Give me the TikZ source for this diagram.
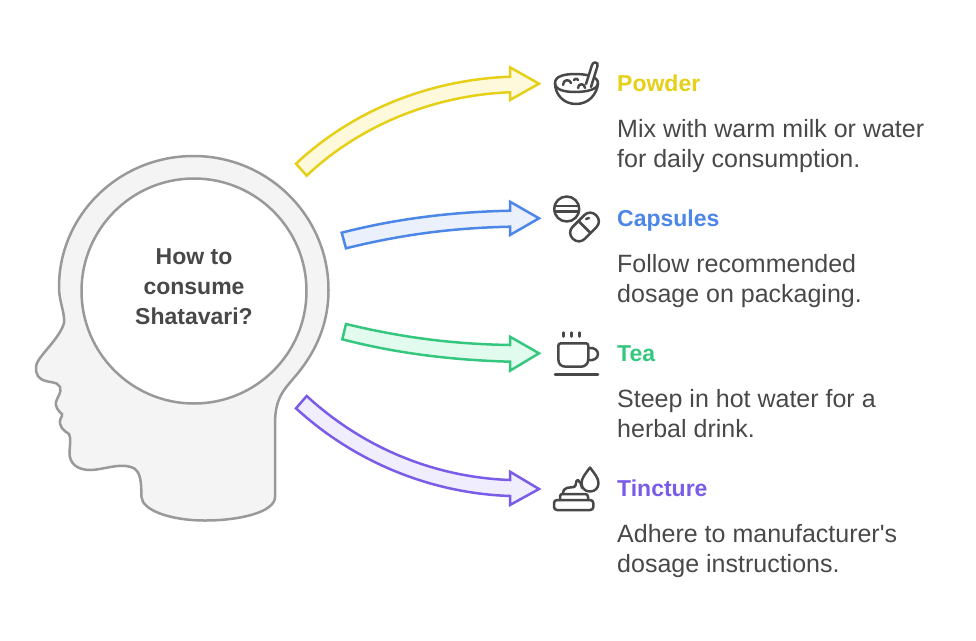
\documentclass[tikz,border=0pt]{standalone}
\usepackage{fontspec}
\setmainfont{Liberation Sans}
\newfontfamily\plainfont{Liberation Sans}
\definecolor{inkgray}{HTML}{484848}
\definecolor{headline}{HTML}{999999}
\definecolor{headfill}{HTML}{F4F4F4}
\definecolor{powderline}{HTML}{E5CF17}
\definecolor{powderfill}{HTML}{FEF9DB}
\definecolor{capsline}{HTML}{4C86E8}
\definecolor{capsfill}{HTML}{EAF1FD}
\definecolor{tealine}{HTML}{36C77F}
\definecolor{teafill}{HTML}{E1FCEF}
\definecolor{tinctline}{HTML}{7B5CE8}
\definecolor{tinctfill}{HTML}{F0EDFE}
\tikzset{
  headshape/.style={draw=headline,fill=headfill,line width=2.5pt},
  flow/.style={line width=2.5pt,line join=miter},
  icon/.style={draw=inkgray,line width=2.5pt,line cap=round,line join=round},
  heading/.style={anchor=base west,font=\fontsize{23}{23}\selectfont\bfseries,inner sep=0pt},
  body/.style={anchor=base west,font=\fontsize{25}{30}\selectfont,text=inkgray,inner sep=0pt,align=left},
}
\begin{document}
\begin{tikzpicture}[x=1pt,y=-1pt]
    \useasboundingbox (0,0) rectangle (976,640);
    % head
    \draw[headshape] (193.5,156) .. controls (268,156) and (328.5,216) .. (328.5,290)
      .. controls (328.5,325) and (315,352) .. (298,373)
      .. controls (285,389) and (275,396) .. (275,424)
      -- (275,497)
      .. controls (275,512) and (240,520.5) .. (205,520.5)
      .. controls (170,520.5) and (142,510) .. (141.5,497)
      .. controls (141,485) and (142,470) .. (131,467)
      .. controls (118,463) and (103,470) .. (90,470)
      .. controls (78,470) and (69,464) .. (69.5,452)
      .. controls (70,445) and (71,438) .. (69,434)
      .. controls (64,431) and (58,426) .. (60.5,419)
      .. controls (61,417) and (63,415) .. (62,414)
      .. controls (58,411) and (55,406) .. (56,402)
      .. controls (57,397) and (62,393) .. (60,387)
      .. controls (58,381) and (47,383) .. (41,379)
      .. controls (36,376) and (34,368) .. (38,361)
      .. controls (44,351) and (60,337) .. (64,323)
      .. controls (65,312) and (59,302) .. (59,287)
      .. controls (59,215) and (119,156) .. (193.5,156) -- cycle;
    \node[circle,draw=headline,fill=white,line width=2.5pt,minimum size=225pt,inner sep=0pt] (brain) at (194,291) {};
    \node[align=center,text=inkgray,inner sep=0pt,font=\fontsize{23}{30}\selectfont\bfseries] (question) at (194,287)
      {How to\\consume\\Shatavari?};
    % arrows
    \draw[flow,draw=powderline,fill=powderfill] (296,163.7) .. controls (350,113) and (425,80) .. (510,76.7)
      -- (510,67.3) -- (539,83.7) -- (510,100) -- (510,92.3)
      .. controls (435,95) and (360,125) .. (306.7,175.7) -- cycle;
    \draw[flow,draw=capsline,fill=capsfill] (341.7,232.7) .. controls (395,219) and (450,212) .. (510,210.7)
      -- (510,201.7) -- (539,218.3) -- (510,235) -- (510,226.7)
      .. controls (450,228) and (400,235) .. (346,248.3) -- cycle;
    \draw[flow,draw=tealine,fill=teafill] (346,324) .. controls (400,337) and (450,344) .. (510,345)
      -- (510,336.7) -- (539,353.3) -- (510,370.7) -- (510,361.7)
      .. controls (450,360) and (395,353) .. (342.3,339.3) -- cycle;
    \draw[flow,draw=tinctline,fill=tinctfill] (306.7,396) .. controls (360,445) and (430,477) .. (510,480)
      -- (510,471.7) -- (539,489) -- (510,505) -- (510,496)
      .. controls (425,493) and (350,458) .. (296,408.3) -- cycle;
    % powder icon
    \draw[icon] (555,83) .. controls (555,76) and (565,74) .. (575,74) .. controls (585,74) and (598,76) .. (598,83)
      .. controls (598,90) and (585,92) .. (575,92) .. controls (565,92) and (555,90) .. (555,83) -- cycle;
    \draw[icon] (555,83) .. controls (555,95) and (564,104) .. (576,104) .. controls (588,104) and (597,95) .. (598,83);
    \draw[icon,fill=white] (586,84) -- (592,65) .. controls (593,61) and (599,62) .. (597.5,66) -- (591,87);
    \draw[icon] (563,85) .. controls (563,79) and (570,79) .. (571,83);
    \draw[icon] (574,80) .. controls (575,78) and (577,78) .. (578,80);
    \draw[icon] (578,88) .. controls (578,83) and (585,83) .. (585,88);
    % capsules icon
    \draw[icon] (566.7,209) circle (12.5);
    \draw[icon] (554.5,206) -- (579,206);
    \draw[icon] (554.5,211.7) -- (579,211.7);
    \draw[icon,rounded corners=8pt,rotate around={45:(584.5,227)}] (568,218.5) rectangle (601,235.5);
    \draw[icon] (578.5,221) -- (590.5,233);
    \draw[icon] (586,219) -- (589,218);
    % tea icon
    \foreach \steamx in {563.3,571.3,579.3}
      \draw[icon] (\steamx,332.5) -- (\steamx,336.5);
    \draw[icon] (561,343.3) -- (586,343.3) .. controls (587.5,343.3) and (588.3,344) .. (588.3,346) -- (588.3,359)
      .. controls (588.3,364) and (585,366.7) .. (581,366.7) -- (566,366.7)
      .. controls (561,366.7) and (558.3,364) .. (558.3,359) -- (558.3,346) .. controls (558.3,344) and (559,343.3) .. (561,343.3) -- cycle;
    \draw[icon] (588.3,348) .. controls (595,347) and (598,351) .. (598,354) .. controls (598,358) and (594,361) .. (588.3,360);
    \draw[icon] (555,374.5) -- (598,374.5);
    % tincture icon
    \draw[icon,rounded corners=3pt] (554,500) rectangle (593.3,510);
    \draw[icon] (560,500) -- (560,496) .. controls (560,494) and (562,494) .. (563,494) -- (585,494) .. controls (587,494) and (588,495) .. (588,497) -- (588,500);
    \draw[icon] (563,494) .. controls (563,486) and (570,488) .. (574,487) .. controls (577,486) and (575,480) .. (578,480) .. controls (580,481) and (581,484) .. (582,488);
    \draw[icon] (590,467.5) .. controls (586,473) and (581.5,478) .. (581.5,483) .. controls (581.5,488) and (585,491.5) .. (590,491.5)
      .. controls (595,491.5) and (598.5,488) .. (598.5,483) .. controls (598.5,478) and (594,473) .. (590,467.5) -- cycle;
    % labels
    \node[heading,text=powderline] (powdertitle) at (617,91) {Powder};
    \node[body] (powdertext) at (617,167) {Mix with warm milk or water\\for daily consumption.};
    \node[heading,text=capsline] (capstitle) at (617,226) {Capsules};
    \node[body] (capstext) at (617,302) {Follow recommended\\dosage on packaging.};
    \node[heading,text=tealine] (teatitle) at (617,361) {Tea};
    \node[body] (teatext) at (617,437) {Steep in hot water for a\\herbal drink.};
    \node[heading,text=tinctline] (tincttitle) at (617,496) {Tincture};
    \node[body] (tincttext) at (617,572) {Adhere to manufacturer{\plainfont'}s\\dosage instructions.};
\end{tikzpicture}
\end{document}
